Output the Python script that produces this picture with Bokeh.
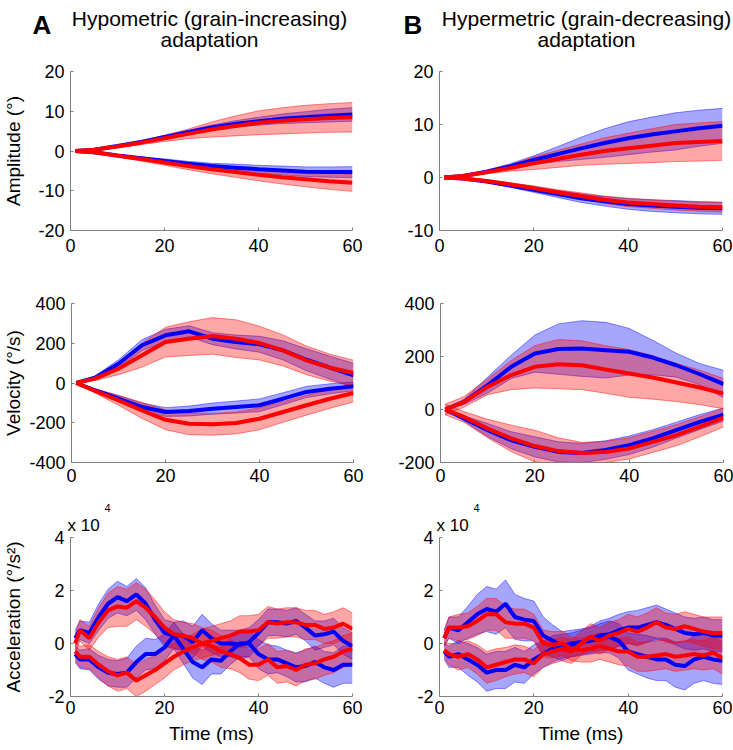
from bokeh.plotting import figure
from bokeh.models import Range1d, FixedTicker, Label, ColumnDataSource, Title, PrintfTickFormatter
from bokeh.layouts import column, row
from bokeh.embed import file_html
from bokeh.resources import INLINE

FONT = "Liberation Sans"
BLUE = "#0000FF"
RED = "#FF0000"

# ---------------- data ----------------
T_AMP = [1, 5, 10, 15, 20, 25, 30, 35, 40, 45, 50, 55, 60]
T_VEL = [1, 5, 10, 15, 20, 25, 30, 35, 40, 45, 50, 55, 60]
T_ACC = [1, 2, 4, 6, 8, 10, 12, 14, 16, 18, 20, 22, 24, 26, 28, 30,
         32, 34, 36, 38, 40, 42, 44, 46, 48, 50, 52, 54, 56, 58, 60]
X_TICKS = [0, 20, 40, 60]

# Amplitude, hypometric (A)
A_AMP_BLUE_POS = [0, 0.3, 1.25, 2.3, 3.5, 4.7, 5.9, 6.8, 7.5, 8.1, 8.5, 8.9, 9.2]
A_AMP_BLUE_POS_SD = [0, 0.1, 0.2, 0.3, 0.4, 0.5, 0.6, 0.8, 1.0, 1.2, 1.4, 1.6, 1.7]
A_AMP_RED_POS = [0, 0.3, 1.15, 2.1, 3.2, 4.3, 5.4, 6.3, 7.1, 7.6, 8.0, 8.3, 8.5]
A_AMP_RED_POS_SD = [0, 0.1, 0.3, 0.5, 0.8, 1.2, 1.9, 2.5, 3.0, 3.3, 3.5, 3.6, 3.7]
A_AMP_BLUE_NEG = [0, -0.3, -1.1, -1.8, -2.5, -3.2, -3.8, -4.2, -4.6, -4.9, -5.2, -5.3, -5.3]
A_AMP_BLUE_NEG_SD = [0, 0.1, 0.2, 0.3, 0.5, 0.6, 0.7, 0.9, 1.0, 1.1, 1.2, 1.3, 1.35]
A_AMP_RED_NEG = [0, -0.3, -1.2, -2.0, -2.9, -3.8, -4.6, -5.3, -6.0, -6.6, -7.1, -7.6, -8.0]
A_AMP_RED_NEG_SD = [0, 0.1, 0.3, 0.5, 0.7, 0.9, 1.1, 1.3, 1.5, 1.7, 1.9, 2.05, 2.15]

# Amplitude, hypermetric (B)
B_AMP_BLUE_POS = [0, 0.3, 1.1, 2.1, 3.3, 4.4, 5.5, 6.5, 7.4, 8.1, 8.7, 9.3, 9.75]
B_AMP_BLUE_POS_SD = [0, 0.1, 0.3, 0.5, 0.8, 1.4, 2.1, 2.7, 3.1, 3.3, 3.5, 3.4, 3.3]
B_AMP_RED_POS = [0, 0.3, 1.0, 1.8, 2.7, 3.5, 4.3, 5.0, 5.5, 6.0, 6.5, 6.7, 6.9]
B_AMP_RED_POS_SD = [0, 0.1, 0.3, 0.6, 1.2, 1.6, 2.0, 2.5, 2.85, 3.2, 3.5, 3.6, 3.65]
B_AMP_BLUE_NEG = [0, -0.2, -0.75, -1.5, -2.3, -3.1, -3.9, -4.5, -5.0, -5.3, -5.5, -5.7, -5.8]
B_AMP_BLUE_NEG_SD = [0, 0.1, 0.2, 0.35, 0.5, 0.65, 0.8, 0.9, 1.0, 1.1, 1.15, 1.15, 1.15]
B_AMP_RED_NEG = [0, -0.2, -0.65, -1.3, -2.0, -2.8, -3.5, -4.2, -4.7, -5.0, -5.3, -5.5, -5.6]
B_AMP_RED_NEG_SD = [0, 0.1, 0.2, 0.3, 0.4, 0.5, 0.6, 0.7, 0.8, 0.8, 0.85, 0.85, 0.9]

# Velocity, hypometric (A)
A_VEL_BLUE_POS = [0, 27, 97, 190, 240, 260, 223, 206, 195, 164, 117, 77, 39]
A_VEL_BLUE_POS_SD = [0, 8, 20, 28, 30, 28, 30, 35, 40, 48, 55, 58, 60]
A_VEL_RED_POS = [0, 22, 72, 140, 206, 223, 237, 223, 201, 164, 114, 77, 50]
A_VEL_RED_POS_SD = [0, 10, 30, 60, 75, 85, 92, 95, 85, 78, 72, 68, 65]
A_VEL_BLUE_NEG = [0, -37, -79, -121, -146, -141, -129, -121, -112, -79, -45, -29, -17]
A_VEL_BLUE_NEG_SD = [0, 8, 15, 20, 22, 25, 28, 30, 32, 30, 28, 25, 22]
A_VEL_RED_NEG = [0, -40, -87, -138, -185, -205, -208, -201, -180, -146, -112, -79, -50]
A_VEL_RED_NEG_SD = [0, 10, 25, 40, 50, 55, 55, 55, 55, 52, 50, 48, 45]

# Velocity, hypermetric (B)
B_VEL_BLUE_POS = [0, 29, 92, 161, 211, 228, 230, 224, 218, 196, 167, 133, 96]
B_VEL_BLUE_POS_SD = [0, 10, 30, 44, 70, 95, 105, 105, 88, 65, 45, 40, 52]
B_VEL_RED_POS = [0, 29, 86, 130, 161, 171, 167, 151, 136, 121, 102, 83, 60]
B_VEL_RED_POS_SD = [20, 20, 30, 55, 80, 93, 92, 90, 90, 82, 72, 65, 57]
B_VEL_BLUE_NEG = [0, -34, -78, -116, -141, -160, -164, -153, -135, -109, -78, -47, -19]
B_VEL_BLUE_NEG_SD = [0, 10, 25, 32, 38, 38, 36, 35, 35, 33, 30, 28, 25]
B_VEL_RED_NEG = [0, -28, -72, -109, -138, -157, -164, -160, -147, -122, -97, -65, -31]
B_VEL_RED_NEG_SD = [20, 20, 35, 50, 60, 50, 40, 40, 40, 40, 40, 38, 35]

# Acceleration (x 10^4), hypometric (A)
A_ACC_BLUE_POS = [0.2, 0.5, 0.4, 1.0, 1.5, 1.75, 1.6, 1.85, 1.5, 0.9, 0.4, 0.3, -0.2, -0.7, -0.9, -0.6,
                  -0.65, -0.3, 0.0, 0.0, -0.4, -0.6, -0.6, -0.75, -0.9, -0.85, -0.7, -0.9, -1.0, -0.8, -0.8]
A_ACC_BLUE_POS_SD = [0.3, 0.35, 0.4, 0.5, 0.55, 0.6, 0.55, 0.6, 0.6, 0.55, 0.5, 0.5, 0.55, 0.6, 0.65, 0.55,
                     0.5, 0.5, 0.5, 0.5, 0.55, 0.55, 0.5, 0.5, 0.55, 0.6, 0.6, 0.6, 0.65, 0.7, 0.7]
A_ACC_BLUE_NEG = [-0.4, -0.6, -0.6, -0.9, -1.1, -1.15, -1.1, -0.7, -0.4, -0.4, -0.15, 0.3, 0.3, 0.05, 0.5, 0.2,
                  0.0, 0.0, -0.05, 0.05, 0.4, 0.8, 0.8, 0.75, 0.85, 0.6, 0.3, 0.35, 0.45, 0.1, -0.1]
A_ACC_BLUE_NEG_SD = [0.3, 0.35, 0.4, 0.45, 0.5, 0.5, 0.55, 0.6, 0.6, 0.55, 0.5, 0.5, 0.55, 0.6, 0.6, 0.55,
                     0.5, 0.5, 0.55, 0.55, 0.5, 0.5, 0.5, 0.5, 0.5, 0.5, 0.55, 0.5, 0.5, 0.5, 0.5]
A_ACC_RED_POS = [0.0, 0.5, 0.2, 0.8, 1.25, 1.4, 1.35, 1.6, 1.35, 1.0, 0.6, 0.35, 0.3, 0.2, 0.0, -0.1,
                 -0.3, -0.4, -0.55, -0.8, -0.8, -0.6, -0.9, -0.85, -1.0, -0.8, -0.75, -0.6, -0.5, -0.3, -0.2]
A_ACC_RED_POS_SD = [0.35, 0.4, 0.45, 0.55, 0.65, 0.75, 0.7, 0.7, 0.7, 0.65, 0.6, 0.55, 0.5, 0.55, 0.6, 0.6,
                    0.6, 0.55, 0.55, 0.55, 0.6, 0.6, 0.6, 0.6, 0.6, 0.6, 0.6, 0.6, 0.6, 0.6, 0.6]
A_ACC_RED_NEG = [-0.3, -0.5, -0.5, -0.8, -1.05, -1.2, -1.1, -1.4, -1.2, -1.0, -0.75, -0.5, -0.3, -0.15, 0.0, 0.1,
                 0.2, 0.3, 0.45, 0.45, 0.5, 0.8, 0.75, 0.8, 0.8, 0.7, 0.7, 0.55, 0.6, 0.75, 0.55]
A_ACC_RED_NEG_SD = [0.35, 0.4, 0.45, 0.5, 0.55, 0.6, 0.6, 0.6, 0.6, 0.55, 0.55, 0.5, 0.5, 0.5, 0.55, 0.55,
                    0.55, 0.55, 0.6, 0.6, 0.6, 0.6, 0.55, 0.55, 0.55, 0.55, 0.55, 0.55, 0.6, 0.6, 0.6]

# Acceleration (x 10^4), hypermetric (B)
B_ACC_BLUE_POS = [0.2, 0.6, 0.5, 0.8, 1.1, 1.3, 1.2, 1.5, 1.0, 0.9, 0.85, 0.3, 0.1, -0.1, 0.0, 0.05,
                  0.1, 0.2, 0.25, 0.1, -0.3, -0.4, -0.5, -0.6, -0.6, -0.8, -0.85, -0.6, -0.5, -0.6, -0.65]
B_ACC_BLUE_POS_SD = [0.3, 0.4, 0.5, 0.6, 0.75, 0.85, 0.85, 0.9, 0.85, 0.8, 0.75, 0.7, 0.6, 0.55, 0.5, 0.5,
                     0.5, 0.55, 0.6, 0.65, 0.7, 0.75, 0.8, 0.8, 0.8, 0.85, 0.9, 0.9, 0.9, 0.9, 0.9]
B_ACC_BLUE_NEG = [-0.3, -0.5, -0.4, -0.6, -0.8, -1.1, -1.0, -1.0, -0.8, -0.9, -0.6, -0.4, -0.2, -0.1, -0.05, 0.05,
                  0.15, 0.3, 0.35, 0.5, 0.6, 0.6, 0.7, 0.8, 0.7, 0.55, 0.4, 0.35, 0.4, 0.3, 0.3]
B_ACC_BLUE_NEG_SD = [0.3, 0.4, 0.5, 0.6, 0.65, 0.7, 0.7, 0.7, 0.65, 0.6, 0.55, 0.5, 0.5, 0.45, 0.45, 0.45,
                     0.5, 0.55, 0.6, 0.6, 0.6, 0.65, 0.65, 0.65, 0.6, 0.6, 0.6, 0.6, 0.6, 0.6, 0.6]
B_ACC_RED_POS = [0.2, 0.6, 0.6, 0.65, 0.85, 1.1, 1.1, 0.8, 0.75, 0.75, 0.6, 0.0, -0.05, 0.0, -0.2, -0.25,
                 -0.2, -0.1, -0.2, -0.3, -0.3, -0.5, -0.5, -0.45, -0.4, -0.5, -0.45, -0.4, -0.45, -0.35, -0.55]
B_ACC_RED_POS_SD = [0.3, 0.4, 0.5, 0.5, 0.55, 0.6, 0.6, 0.6, 0.55, 0.55, 0.5, 0.5, 0.5, 0.45, 0.45, 0.45,
                    0.5, 0.5, 0.5, 0.5, 0.55, 0.55, 0.55, 0.55, 0.55, 0.55, 0.55, 0.55, 0.55, 0.6, 0.6]
B_ACC_RED_NEG = [-0.25, -0.4, -0.5, -0.4, -0.6, -0.9, -0.8, -0.7, -0.6, -0.6, -0.75, -0.4, -0.3, -0.2, -0.3, 0.0,
                 0.25, 0.1, 0.3, 0.4, 0.55, 0.45, 0.6, 0.8, 0.6, 0.55, 0.65, 0.55, 0.45, 0.4, 0.4]
B_ACC_RED_NEG_SD = [0.3, 0.4, 0.5, 0.5, 0.55, 0.6, 0.6, 0.55, 0.55, 0.5, 0.5, 0.5, 0.45, 0.45, 0.45, 0.45,
                    0.5, 0.5, 0.5, 0.5, 0.55, 0.55, 0.55, 0.55, 0.55, 0.55, 0.55, 0.55, 0.55, 0.6, 0.6]

TITLE_A = "Hypometric (grain-increasing)"
TITLE_B = "Hypermetric (grain-decreasing)"
TITLE_2 = "adaptation"

# ---------------- layout geometry ----------------
COL_GEOM = {"A": dict(left=67, fw=282, right=17), "B": dict(left=70, fw=283, right=12)}
ROW_GEOM = [dict(top=11, bottom=40, xstand=8, xlab=6),
            dict(top=33, bottom=38, xstand=6, xlab=6),
            dict(top=37, bottom=53, xstand=4, xlab=6)]
FH = 159
GRAY = "#808080"


def make_panel(col, r, t, series, ylim, yticks, ylabel=None, ylab_standoff=2, xlabel=None):
    cg = COL_GEOM[col]
    rg = ROW_GEOM[r]
    p = figure(frame_width=cg["fw"], frame_height=FH,
               min_border_left=cg["left"], min_border_right=cg["right"],
               min_border_top=rg["top"], min_border_bottom=rg["bottom"],
               x_range=Range1d(0, 60), y_range=Range1d(*ylim),
               output_backend="svg", toolbar_location=None)
    p.outline_line_color = None
    p.xgrid.grid_line_color = None
    p.ygrid.grid_line_color = None
    p.xaxis.ticker = FixedTicker(ticks=X_TICKS)
    p.yaxis.ticker = FixedTicker(ticks=yticks)
    for ax in p.axis:
        ax.formatter = PrintfTickFormatter(format="%d")
        ax.axis_line_color = GRAY
        ax.major_tick_line_color = GRAY
        ax.major_tick_in = 3
        ax.major_tick_out = 0
        ax.minor_tick_line_color = None
        ax.major_label_text_font = FONT
        ax.major_label_text_font_size = "18px"
        ax.major_label_text_color = "#000000"
        ax.axis_label_text_font = FONT
        ax.axis_label_text_font_size = "19px"
        ax.axis_label_text_font_style = "normal"
        ax.axis_label_text_color = "#000000"
    p.yaxis.major_label_standoff = 6
    p.yaxis.axis_label_standoff = ylab_standoff
    p.xaxis.major_label_standoff = rg["xstand"]
    p.xaxis.axis_label_standoff = rg["xlab"]
    if ylabel:
        p.yaxis.axis_label = ylabel
    if xlabel:
        p.xaxis.axis_label = xlabel

    srcs = []
    for mean, sd, color in series:
        lo = [m - s for m, s in zip(mean, sd)]
        hi = [m + s for m, s in zip(mean, sd)]
        src = ColumnDataSource(dict(t=t, mean=mean, lo=lo, hi=hi))
        p.varea(x="t", y1="lo", y2="hi", source=src, fill_color=color, fill_alpha=0.35)
        p.line("t", "lo", source=src, line_color=color, line_alpha=0.45, line_width=1)
        p.line("t", "hi", source=src, line_color=color, line_alpha=0.45, line_width=1)
        srcs.append((src, color))
    for src, color in srcs:
        p.line("t", "mean", source=src, line_color=color, line_width=4)
    return p


def title_fig(width, letter, letter_x, line1, line2, cx):
    p = figure(frame_width=width, frame_height=60, min_border=0,
               x_range=Range1d(0, 1), y_range=Range1d(0, 1),
               x_axis_type=None, y_axis_type=None,
               output_backend="svg", toolbar_location=None)
    p.outline_line_color = None
    p.add_layout(Label(x=letter_x, y=36, x_units="screen", y_units="screen", text=letter,
                       text_font=FONT, text_font_size="26px", text_font_style="bold",
                       text_align="left", text_baseline="alphabetic", text_color="#000000"))
    p.add_layout(Label(x=cx, y=42, x_units="screen", y_units="screen", text=line1,
                       text_font=FONT, text_font_size="21px",
                       text_align="center", text_baseline="alphabetic", text_color="#000000"))
    p.add_layout(Label(x=cx, y=21, x_units="screen", y_units="screen", text=line2,
                       text_font=FONT, text_font_size="21px",
                       text_align="center", text_baseline="alphabetic", text_color="#000000"))
    return p


def add_exponent(p):
    p.add_layout(Title(text="x 10", text_font=FONT, text_font_size="17px",
                       text_font_style="normal", text_color="#000000",
                       align="left", offset=-3, standoff=5), "above")
    p.add_layout(Title(text="4", text_font=FONT, text_font_size="11px",
                       text_font_style="normal", text_color="#000000",
                       align="left", offset=34, standoff=0), "above")


tA = title_fig(366, "A", 32, TITLE_A, TITLE_2, 209)
tB = title_fig(365, "B", 37, TITLE_B, TITLE_2, 220)

pA1 = make_panel("A", 0, T_AMP, [
    (A_AMP_BLUE_POS, A_AMP_BLUE_POS_SD, BLUE), (A_AMP_BLUE_NEG, A_AMP_BLUE_NEG_SD, BLUE),
    (A_AMP_RED_POS, A_AMP_RED_POS_SD, RED), (A_AMP_RED_NEG, A_AMP_RED_NEG_SD, RED)],
    (-20, 20), [-20, -10, 0, 10, 20], ylabel="Amplitude (°)", ylab_standoff=11)
pB1 = make_panel("B", 0, T_AMP, [
    (B_AMP_BLUE_POS, B_AMP_BLUE_POS_SD, BLUE), (B_AMP_BLUE_NEG, B_AMP_BLUE_NEG_SD, BLUE),
    (B_AMP_RED_POS, B_AMP_RED_POS_SD, RED), (B_AMP_RED_NEG, B_AMP_RED_NEG_SD, RED)],
    (-10, 20), [-10, 0, 10, 20])
pA2 = make_panel("A", 1, T_VEL, [
    (A_VEL_BLUE_POS, A_VEL_BLUE_POS_SD, BLUE), (A_VEL_BLUE_NEG, A_VEL_BLUE_NEG_SD, BLUE),
    (A_VEL_RED_POS, A_VEL_RED_POS_SD, RED), (A_VEL_RED_NEG, A_VEL_RED_NEG_SD, RED)],
    (-400, 400), [-400, -200, 0, 200, 400], ylabel="Velocity (°/s)", ylab_standoff=2)
pB2 = make_panel("B", 1, T_VEL, [
    (B_VEL_BLUE_POS, B_VEL_BLUE_POS_SD, BLUE), (B_VEL_BLUE_NEG, B_VEL_BLUE_NEG_SD, BLUE),
    (B_VEL_RED_POS, B_VEL_RED_POS_SD, RED), (B_VEL_RED_NEG, B_VEL_RED_NEG_SD, RED)],
    (-200, 400), [-200, 0, 200, 400])
pA3 = make_panel("A", 2, T_ACC, [
    (A_ACC_BLUE_POS, A_ACC_BLUE_POS_SD, BLUE), (A_ACC_BLUE_NEG, A_ACC_BLUE_NEG_SD, BLUE),
    (A_ACC_RED_POS, A_ACC_RED_POS_SD, RED), (A_ACC_RED_NEG, A_ACC_RED_NEG_SD, RED)],
    (-2, 4), [-2, 0, 2, 4], ylabel="Acceleration (°/s²)", ylab_standoff=21, xlabel="Time (ms)")
pB3 = make_panel("B", 2, T_ACC, [
    (B_ACC_BLUE_POS, B_ACC_BLUE_POS_SD, BLUE), (B_ACC_BLUE_NEG, B_ACC_BLUE_NEG_SD, BLUE),
    (B_ACC_RED_POS, B_ACC_RED_POS_SD, RED), (B_ACC_RED_NEG, B_ACC_RED_NEG_SD, RED)],
    (-2, 4), [-2, 0, 2, 4], xlabel="Time (ms)")
add_exponent(pA3)
add_exponent(pB3)

layout = column(row(tA, tB), row(pA1, pB1), row(pA2, pB2), row(pA3, pB3))

with open("out.html", "w") as f:
    f.write(file_html(layout, INLINE))
